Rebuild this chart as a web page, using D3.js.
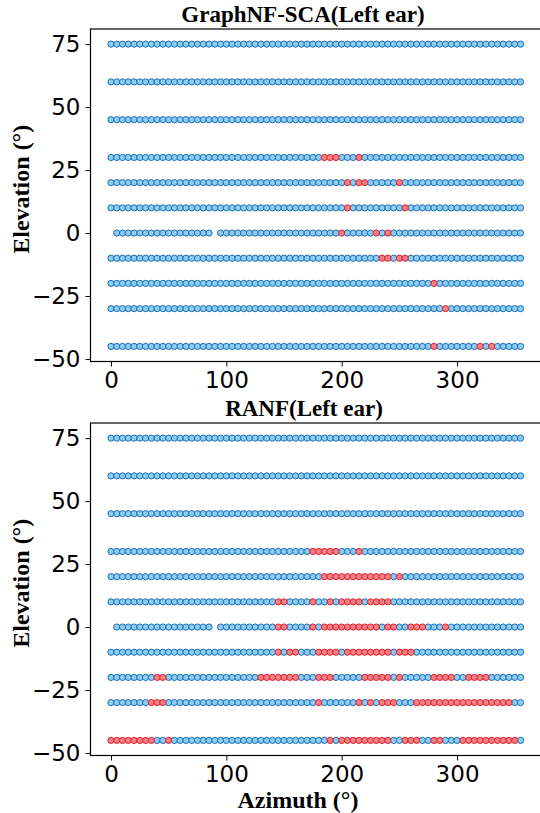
<!DOCTYPE html>
<meta charset="utf-8">
<style>
body { margin: 0; background: #fff; }
svg { display: block; }
.tick text { font-family: "DejaVu Sans", sans-serif; font-size: 23px; fill: #000; }
.lab { font-family: "Liberation Serif", "Times New Roman", serif; font-weight: bold; font-size: 24px; fill: #000; }
.ttl { font-family: "Liberation Serif", "Times New Roman", serif; font-weight: bold; font-size: 23px; fill: #000; }
</style>
<body>
<div id="chart"></div>
<script src="https://cdn.jsdelivr.net/npm/d3@7"></script>
<script>

// measurement grid
var elevations = [75, 60, 45, 30, 20, 10, 0, -10, -20, -30, -45];
var azimuths = [0, 5, 10, 15, 20, 25, 30, 35, 40, 45, 50, 55, 60, 65, 70, 75, 80, 85,
  90, 95, 100, 105, 110, 115, 120, 125, 130, 135, 140, 145, 150, 155, 160, 165, 170, 175,
  180, 185, 190, 195, 200, 205, 210, 215, 220, 225, 230, 235, 240, 245, 250, 255, 260, 265,
  270, 275, 280, 285, 290, 295, 300, 305, 310, 315, 320, 325, 330, 335, 340, 345, 350, 355];
// the 0 deg elevation ring has no point at these azimuths
var missingAtZero = [0, 90];

var xTicks = [0, 100, 200, 300];
var yTicks = [75, 50, 25, 0, -25, -50];

// red (failed) positions, one list per elevation (same order as elevations)
var graphnfErrors = [
  [], [], [],
  [185, 190, 195, 215],
  [205, 215, 220, 250],
  [205, 255],
  [200, 230, 240],
  [235, 240, 250, 255],
  [280],
  [290],
  [280, 320, 330]
];

var ranfErrors = [
  [], [], [],
  [175, 180, 185, 190, 195, 215],
  [185, 190, 195, 200, 205, 210, 215, 220, 225, 230, 235, 240, 250],
  [145, 150, 175, 190, 200, 205, 210, 215, 225, 230, 235, 240],
  [145, 150, 175, 185, 190, 195, 200, 205, 210, 215, 220, 225, 230, 240, 245, 260, 265, 270, 290],
  [145, 155, 160, 180, 185, 190, 195, 205, 210, 215, 220, 225, 230, 235, 240, 250, 255, 260],
  [40, 45, 130, 135, 140, 145, 150, 155, 160, 180, 185, 190, 220, 225, 230, 235, 240, 250,
   280, 285, 290, 295, 310, 315, 320, 325],
  [35, 40, 45, 180, 215, 225, 235, 240, 245, 265, 270, 275, 280, 285, 290, 295, 300, 305,
   310, 315, 320, 325, 330, 335, 340, 345],
  [0, 5, 10, 15, 20, 25, 30, 35, 50, 190, 200, 205, 210, 215, 220, 225, 230, 235, 240,
   255, 260, 265, 280, 285, 305, 310, 315, 320, 325, 330, 335, 340, 345, 350]
];

var W = 540, H = 813;

var svg = d3.select("#chart").append("svg")
  .attr("width", W)
  .attr("height", H);

var x = d3.scaleLinear().domain([-17.75, 372.75]).range([90.5, 541]);

drawPanel("GraphNF-SCA(Left ear)", graphnfErrors, 29, 361.5, 303, 22, false);
drawPanel("RANF(Left ear)", ranfErrors, 423, 755.5, 304, 416, true);

function pointsFor(errors){
  var pts = [];
  elevations.forEach(function(el, i){
    azimuths.forEach(function(az){
      if(el === 0 && missingAtZero.indexOf(az) >= 0) return;
      pts.push({az: az, el: el, bad: errors[i].indexOf(az) >= 0});
    });
  });
  return pts;
}

function drawPanel(title, errors, top, bottom, titleX, titleY, showXLabel){
  var y = d3.scaleLinear().domain([-51, 81]).range([bottom, top]);
  var g = svg.append("g");

  // frame
  g.append("rect")
    .attr("x", x.range()[0]).attr("y", top)
    .attr("width", x.range()[1] - x.range()[0]).attr("height", bottom - top)
    .attr("fill", "none").attr("stroke", "#000").attr("stroke-width", 1.2);

  var pts = pointsFor(errors);
  // blue first, red on top
  pts.sort(function(a, b){ return a.bad - b.bad; });

  g.append("g").selectAll("circle")
    .data(pts)
    .join("circle")
      .attr("cx", function(d){ return x(d.az); })
      .attr("cy", function(d){ return y(d.el); })
      .attr("r", 3.1)
      .attr("fill", function(d){ return d.bad ? "#f47f85" : "#8ccdf4"; })
      .attr("stroke", function(d){ return d.bad ? "#e0202c" : "#1f6db2"; })
      .attr("stroke-width", 1);

  var xAxis = d3.axisBottom(x).tickValues(xTicks).tickSize(5).tickPadding(5)
    .tickFormat(d3.format("d"));
  g.append("g")
    .attr("transform", "translate(0," + bottom + ")")
    .call(xAxis)
    .call(function(s){ s.select(".domain").remove(); });

  var yAxis = d3.axisLeft(y).tickValues(yTicks).tickSize(5).tickPadding(5)
    .tickFormat(function(d){ return d < 0 ? "\u2212" + Math.abs(d) : d; });
  g.append("g")
    .attr("transform", "translate(" + x.range()[0] + ",0)")
    .call(yAxis)
    .call(function(s){ s.select(".domain").remove(); });

  g.selectAll(".tick line").attr("stroke", "#000").attr("stroke-width", 1);

  g.append("text")
    .attr("class", "ttl")
    .attr("x", titleX).attr("y", titleY)
    .attr("text-anchor", "middle")
    .text(title);

  g.append("text")
    .attr("class", "lab")
    .attr("transform", "translate(29," + ((top + bottom) / 2 - 6) + ") rotate(-90)")
    .attr("text-anchor", "middle")
    .text("Elevation (\u00b0)");

  if(showXLabel){
    g.append("text")
      .attr("class", "lab")
      .attr("x", 298).attr("y", 808)
      .attr("text-anchor", "middle")
      .text("Azimuth (\u00b0)");
  }
}

</script>
